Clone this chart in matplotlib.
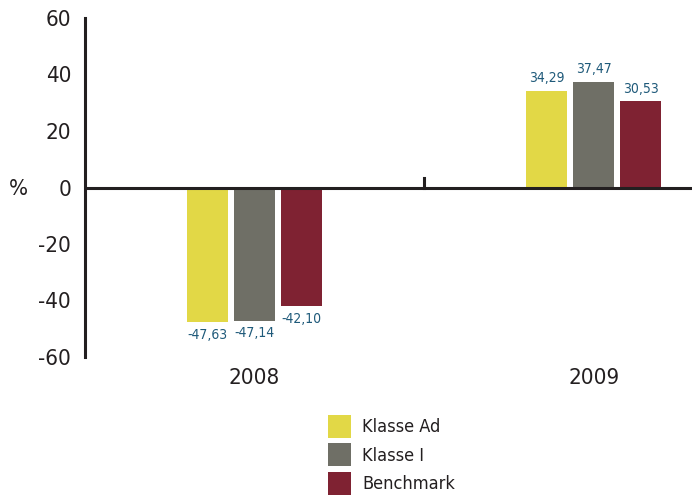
import numpy as np
import matplotlib.pyplot as plt
from matplotlib.patches import Patch

# Data
years = ["2008", "2009"]
series = ["Klasse Ad", "Klasse I", "Benchmark"]
klasse_ad = [-47.63, 34.29]
klasse_i = [-47.14, 37.47]
benchmark = [-42.10, 30.53]
colors = ["#E2D846", "#6F6F66", "#7F2232"]
label_color = "#1F5A7A"
dark = "#231F20"

plt.rcParams['font.family'] = ['DejaVu Sans']
plt.rcParams['font.stretch'] = 'condensed'
plt.rcParams['axes.unicode_minus'] = False

fig = plt.figure(figsize=(6.92, 5.01), dpi=100)
ax = fig.add_axes([85 / 692, 1 - 357 / 501, 1 - 85 / 692, (357 - 18) / 501])

x = np.arange(len(years))
width = 0.121
step = 0.139
for i, (vals, c) in enumerate(zip([klasse_ad, klasse_i, benchmark], colors)):
    pos = x + (i - 1) * step
    ax.bar(pos, vals, width=width, color=c, zorder=2)
    for p, v in zip(pos, vals):
        txt = f"{v:.2f}".replace(".", ",")
        va = "bottom" if v > 0 else "top"
        off = 4 if v > 0 else -4
        ax.annotate(txt, (p, v), xytext=(0, off), textcoords="offset points",
                    ha="center", va=va, fontsize=10, color=label_color)

ax.set_ylim(-60, 60)
ax.set_xlim(-0.5, 1.29)
ax.set_yticks(range(-60, 61, 20))
ax.tick_params(axis="y", length=0, pad=10, labelsize=16, labelcolor=dark)
ax.set_xticks([])

for s in ["top", "right", "bottom"]:
    ax.spines[s].set_visible(False)
ax.spines["left"].set_linewidth(2.2)
ax.spines["left"].set_color(dark)
ax.axhline(0, color=dark, lw=2.2, zorder=3)
ax.plot([0.5, 0.5], [0, 3.2], color=dark, lw=2.2, zorder=3, clip_on=False)

for xi, yr in zip(x, years):
    ax.text(xi, -64, yr, ha="center", va="top", fontsize=16, color=dark)

fig.text(18 / 692, 1 - 189 / 501, "%", ha="center", va="center", fontsize=16, color=dark)

handles = [Patch(facecolor=c) for c in colors]
fig.legend(handles, series, loc="upper left", bbox_to_anchor=(315 / 692, 1 - 402 / 501),
           frameon=False, fontsize=13, handlelength=1.3, handleheight=1.6,
           labelspacing=0.3, handletextpad=0.6, borderpad=0.2, labelcolor=dark)

fig.savefig("out.png", dpi=100)
